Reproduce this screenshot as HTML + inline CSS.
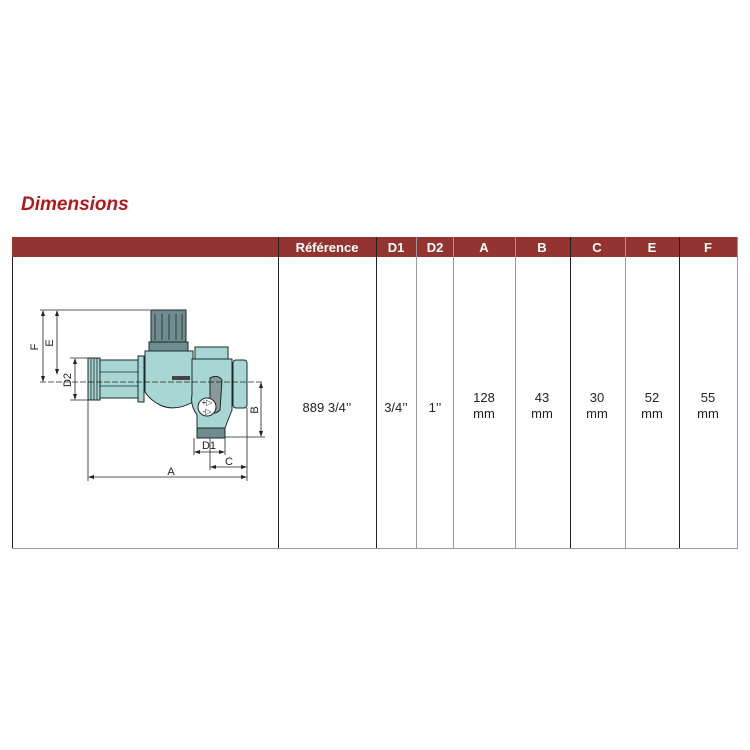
<!DOCTYPE html>
<html><head><meta charset="utf-8"><style>
body{margin:0;background:#fff;width:750px;height:750px;position:relative;font-family:"Liberation Sans",Arial,sans-serif;overflow:hidden}
.t{position:absolute;left:21px;top:194px;font-size:19px;font-weight:bold;font-style:italic;color:#b01a1a}
svg{position:absolute;left:0;top:0}
</style></head><body>
<div class="t">Dimensions</div>
<svg width="750" height="750" viewBox="0 0 750 750" font-family="Liberation Sans, Arial, sans-serif">
<rect x="12" y="237" width="726" height="20" fill="#933431"/>
<g fill="#fff" font-weight="bold" font-size="13" text-anchor="middle">
<text x="327" y="252">Référence</text><text x="396" y="252">D1</text><text x="435" y="252">D2</text>
<text x="484" y="252">A</text><text x="542" y="252">B</text><text x="597" y="252">C</text>
<text x="652" y="252">E</text><text x="708" y="252">F</text></g>
<g stroke="#222" stroke-width="1">
<line x1="12.5" y1="257" x2="12.5" y2="549"/><line x1="278.5" y1="237" x2="278.5" y2="549"/>
<line x1="376.5" y1="237" x2="376.5" y2="549"/><line x1="570.5" y1="237" x2="570.5" y2="549"/>
<line x1="679.5" y1="237" x2="679.5" y2="549"/></g>
<g stroke="#999" stroke-width="1">
<line x1="416.5" y1="237" x2="416.5" y2="549"/><line x1="453.5" y1="237" x2="453.5" y2="549"/>
<line x1="515.5" y1="237" x2="515.5" y2="549"/><line x1="625.5" y1="237" x2="625.5" y2="549"/>
<line x1="737.5" y1="237" x2="737.5" y2="549"/>
<line x1="12" y1="548.5" x2="738" y2="548.5"/></g>
<g fill="#222" font-size="13" text-anchor="middle">
<text x="327" y="412">889 3/4’’</text><text x="396" y="412">3/4’’</text><text x="435" y="412">1’’</text>
<text x="484" y="402">128</text><text x="484" y="418">mm</text>
<text x="542" y="402">43</text><text x="542" y="418">mm</text>
<text x="597" y="402">30</text><text x="597" y="418">mm</text>
<text x="652" y="402">52</text><text x="652" y="418">mm</text>
<text x="708" y="402">55</text><text x="708" y="418">mm</text></g>
<!-- valve drawing -->
<g stroke="#1a2a2a" stroke-width="1" fill="#a8d6d4">
<rect x="88" y="358" width="12" height="42"/>
<rect x="100" y="360" width="38" height="38"/>
<rect x="138" y="356" width="6" height="46"/>
<rect x="151" y="310" width="35" height="32" fill="#6f8d90"/>
<rect x="149" y="342" width="39" height="9" fill="#6f8d90"/>
<path d="M145 351 H193 V402 Q175 412 160 405 Q150 400 145 392 Z"/>
<rect x="195" y="347" width="33" height="12"/>
<path d="M192 359 H232 V410 Q228 420 225 428 H197 V415 Q190 405 192 395 Z"/>
<rect x="233" y="360" width="14" height="48" rx="3"/>
<rect x="197" y="428" width="28" height="10" fill="#6f8d90"/>
<path d="M210 378 Q218 374 222 380 L220 410 Q214 416 210 410 Z" fill="#8a9a9c"/>
<circle cx="207" cy="407" r="9" fill="#fff"/>
</g>
<g stroke="#1a2a2a" stroke-width="0.8">
<line x1="155" y1="314" x2="155" y2="340"/><line x1="162" y1="314" x2="162" y2="340"/><line x1="169" y1="314" x2="169" y2="340"/><line x1="176" y1="314" x2="176" y2="340"/><line x1="182" y1="314" x2="182" y2="340"/>
<line x1="100" y1="372" x2="138" y2="372"/><line x1="100" y1="386" x2="138" y2="386"/>
<line x1="91" y1="358" x2="91" y2="400"/><line x1="94" y1="358" x2="94" y2="400"/><line x1="97" y1="358" x2="97" y2="400"/>
</g>
<rect x="172" y="376" width="18" height="4" fill="#444"/>
<text x="207" y="405" font-size="8" text-anchor="middle" fill="#111">+▷</text>
<text x="207" y="414" font-size="8" text-anchor="middle" fill="#111">-▷</text>
<!-- dimension lines -->
<g stroke="#222" stroke-width="0.8" fill="none">
<line x1="40" y1="310" x2="150" y2="310"/>
<line x1="40" y1="382" x2="262" y2="382" stroke-dasharray="6,2"/>
<line x1="43" y1="311" x2="43" y2="381"/><line x1="57" y1="311" x2="57" y2="374"/>
<line x1="70" y1="358" x2="90" y2="358"/><line x1="70" y1="400" x2="90" y2="400"/>
<line x1="75" y1="359" x2="75" y2="399"/>
<line x1="88" y1="400" x2="88" y2="481"/><line x1="247" y1="408" x2="247" y2="481"/>
<line x1="225" y1="437" x2="265" y2="437"/><line x1="261" y1="383" x2="261" y2="436"/>
<line x1="194" y1="438" x2="194" y2="455"/><line x1="225" y1="438" x2="225" y2="455"/>
<line x1="210" y1="438" x2="210" y2="470"/>
<line x1="195" y1="452" x2="224" y2="452"/><line x1="211" y1="467" x2="246" y2="467"/>
<line x1="89" y1="477" x2="246" y2="477"/></g>
<g fill="#222">
<path d="M43 310 l-2 6 h4z"/><path d="M43 382 l-2 -6 h4z"/>
<path d="M57 310 l-2 6 h4z"/><path d="M57 375 l-2 -6 h4z"/>
<path d="M75 358 l-2 6 h4z"/><path d="M75 400 l-2 -6 h4z"/>
<path d="M261 382 l-2 6 h4z"/><path d="M261 437 l-2 -6 h4z"/>
<path d="M194 452 l6 -2 v4z"/><path d="M225 452 l-6 -2 v4z"/>
<path d="M210 467 l6 -2 v4z"/><path d="M247 467 l-6 -2 v4z"/>
<path d="M88 477 l6 -2 v4z"/><path d="M247 477 l-6 -2 v4z"/>
</g>
<g font-size="11" fill="#222" text-anchor="middle">
<text x="38" y="347" transform="rotate(-90 38 347)">F</text>
<text x="53" y="343" transform="rotate(-90 53 343)">E</text>
<text x="71" y="380" transform="rotate(-90 71 380)">D2</text>
<text x="258" y="410" transform="rotate(-90 258 410)">B</text>
<text x="209" y="449">D1</text><text x="229" y="465">C</text><text x="171" y="475">A</text>
</g>
</svg>
</body></html>
